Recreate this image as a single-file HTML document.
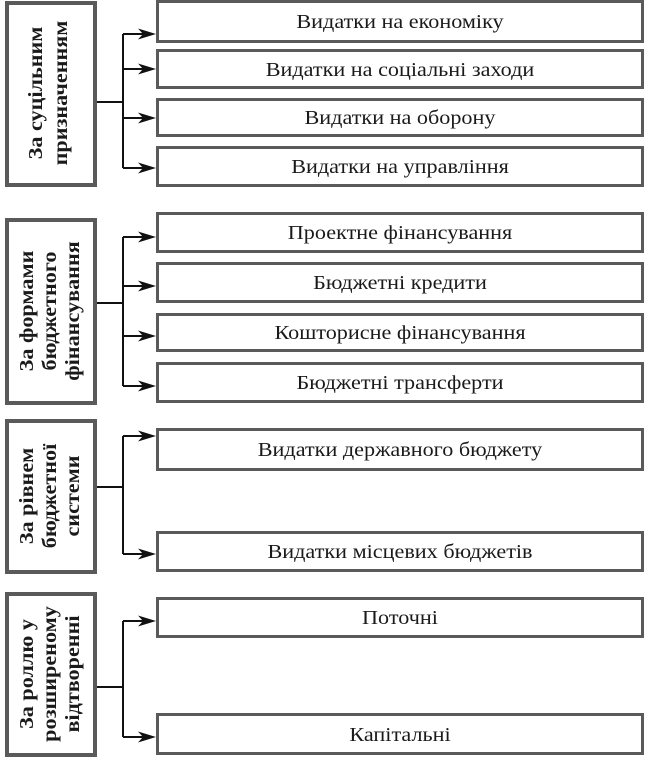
<!DOCTYPE html>
<html><head><meta charset="utf-8"><style>
html,body{margin:0;padding:0;background:#fff;}
svg{display:block;}
.r{fill:#fff;stroke:#5a5a5a;stroke-width:3;}
.l{fill:#fff;stroke:#5a5a5a;stroke-width:4;}
.ln{stroke:#111;stroke-width:2;fill:none;}
.ah{fill:#111;}
.t{font-family:"Liberation Serif",serif;font-size:20px;fill:#1a1a1a;text-anchor:middle;}
.v{font-family:"Liberation Serif",serif;font-size:20px;font-weight:bold;fill:#1a1a1a;text-anchor:middle;}
</style></head><body>
<svg width="645" height="763" viewBox="0 0 645 763" xmlns="http://www.w3.org/2000/svg">
<defs>
<path id="a" d="M156,0 L138,-5.5 L143,0 L138,5.5 Z" class="ah"/>
</defs>

<!-- Group 1 -->
<rect class="l" x="7" y="3" width="88" height="182"/>
<text class="v" transform="translate(0,93) rotate(-90) scale(1.11,1)"><tspan x="0" y="42">За суцільним</tspan><tspan x="0" y="67">призначенням</tspan></text>
<rect class="r" x="157.5" y="1.5" width="485" height="40"/>
<rect class="r" x="157.5" y="50.5" width="485" height="37"/>
<rect class="r" x="157.5" y="99.5" width="485" height="36"/>
<rect class="r" x="157.5" y="147.5" width="485" height="38"/>
<text class="t" transform="translate(400,28) scale(1.11,1)" x="0" y="0">Видатки на економіку</text>
<text class="t" transform="translate(400,76) scale(1.11,1)" x="0" y="0">Видатки на соціальні заходи</text>
<text class="t" transform="translate(400,124) scale(1.11,1)" x="0" y="0">Видатки на оборону</text>
<text class="t" transform="translate(400,173) scale(1.11,1)" x="0" y="0">Видатки на управління</text>
<path class="ln" d="M97,102 H123 M123,34 V168 M123,34 H145 M123,69 H145 M123,118 H145 M123,168 H145"/>
<use href="#a" transform="translate(0,34)"/>
<use href="#a" transform="translate(0,69)"/>
<use href="#a" transform="translate(0,118)"/>
<use href="#a" transform="translate(0,168)"/>

<!-- Group 2 -->
<rect class="l" x="7" y="220" width="88" height="183"/>
<text class="v" transform="translate(0,311) rotate(-90) scale(1.11,1)"><tspan x="0" y="33">За формами</tspan><tspan x="0" y="56">бюджетного</tspan><tspan x="0" y="79">фінансування</tspan></text>
<rect class="r" x="157.5" y="213.5" width="485" height="38"/>
<rect class="r" x="157.5" y="263.5" width="485" height="38"/>
<rect class="r" x="157.5" y="314.5" width="485" height="36"/>
<rect class="r" x="157.5" y="363.5" width="485" height="38"/>
<text class="t" transform="translate(400,239) scale(1.11,1)" x="0" y="0">Проектне фінансування</text>
<text class="t" transform="translate(400,289) scale(1.11,1)" x="0" y="0">Бюджетні кредити</text>
<text class="t" transform="translate(400,339) scale(1.11,1)" x="0" y="0">Кошторисне фінансування</text>
<text class="t" transform="translate(400,389) scale(1.11,1)" x="0" y="0">Бюджетні трансферти</text>
<path class="ln" d="M97,303 H123 M123,237 V386 M123,237 H145 M123,286 H145 M123,336 H145 M123,386 H145"/>
<use href="#a" transform="translate(0,237)"/>
<use href="#a" transform="translate(0,286)"/>
<use href="#a" transform="translate(0,336)"/>
<use href="#a" transform="translate(0,386)"/>

<!-- Group 3 -->
<rect class="l" x="7" y="421" width="88" height="151"/>
<text class="v" transform="translate(0,496) rotate(-90) scale(1.11,1)"><tspan x="0" y="33">За рівнем</tspan><tspan x="0" y="56">бюджетної</tspan><tspan x="0" y="79">системи</tspan></text>
<rect class="r" x="157.5" y="429.5" width="485" height="40"/>
<rect class="r" x="157.5" y="532.5" width="485" height="38"/>
<text class="t" transform="translate(400,456) scale(1.11,1)" x="0" y="0">Видатки державного бюджету</text>
<text class="t" transform="translate(400,558) scale(1.11,1)" x="0" y="0">Видатки місцевих бюджетів</text>
<path class="ln" d="M97,487 H123 M123,436 V554 M123,436 H145 M123,554 H145"/>
<use href="#a" transform="translate(0,436)"/>
<use href="#a" transform="translate(0,554)"/>

<!-- Group 4 -->
<rect class="l" x="7" y="594" width="88" height="161"/>
<text class="v" transform="translate(0,674) rotate(-90) scale(1.11,1)"><tspan x="0" y="33">За роллю у</tspan><tspan x="0" y="56">розширеному</tspan><tspan x="0" y="79">відтворенні</tspan></text>
<rect class="r" x="157.5" y="598.5" width="485" height="38"/>
<rect class="r" x="157.5" y="714.5" width="485" height="39"/>
<text class="t" transform="translate(400,624) scale(1.11,1)" x="0" y="0">Поточні</text>
<text class="t" transform="translate(400,741) scale(1.11,1)" x="0" y="0">Капітальні</text>
<path class="ln" d="M97,687 H123 M123,621 V737 M123,621 H145 M123,737 H145"/>
<use href="#a" transform="translate(0,621)"/>
<use href="#a" transform="translate(0,737)"/>
</svg>
</body></html>
